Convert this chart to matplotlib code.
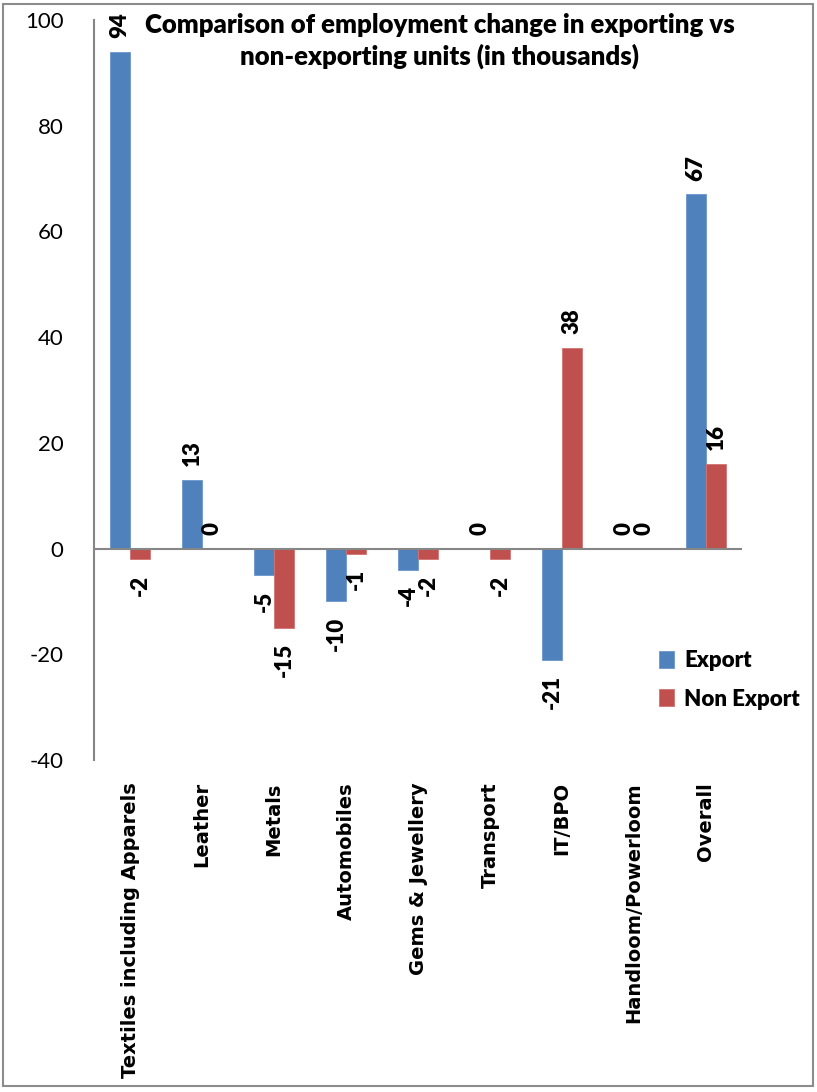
import matplotlib.pyplot as plt
import numpy as np
from matplotlib.patches import Rectangle

categories = ["Textiles including Apparels", "Leather", "Metals", "Automobiles",
              "Gems & Jewellery", "Transport", "IT/BPO", "Handloom/Powerloom", "Overall"]
export = [94, 13, -5, -10, -4, 0, -21, 0, 67]
non_export = [-2, 0, -15, -1, -2, -2, 38, 0, 16]

blue = "#4F81BD"
red = "#C0504D"
axis_gray = "#868686"

plt.rcParams["axes.unicode_minus"] = False

fig = plt.figure(figsize=(8.17, 10.92), dpi=100)
ax = fig.add_axes([94/817, 1-760/1092, (742-94)/817, (760-20)/1092])

x = np.arange(len(categories))
w = 0.28
b1 = ax.bar(x - w/2, export, w, color=blue, edgecolor="#6C96CC", linewidth=0.6, label="Export")
b2 = ax.bar(x + w/2, non_export, w, color=red, edgecolor="#D07370", linewidth=0.6, label="Non Export")

ax.set_xlim(-0.5, len(categories) - 0.5)
ax.set_ylim(-40, 100)
ax.set_yticks(range(-40, 101, 20))
ax.tick_params(axis="y", length=0, labelsize=16, pad=22, labelcolor="black")
for t in ax.get_yticklabels():
    t.set_fontfamily("Lato")

ax.set_xticks(x)
ax.set_xticklabels(categories, rotation=90, fontsize=14, fontweight="bold",
                   fontfamily="DejaVu Sans")
ax.tick_params(axis="x", length=0, pad=16)

for s in ["top", "right", "bottom"]:
    ax.spines[s].set_visible(False)
ax.spines["left"].set_color(axis_gray)
ax.spines["left"].set_linewidth(1.5)
ax.axhline(0, color=axis_gray, linewidth=1.5, zorder=3)

# data labels
for bars, vals in [(b1, export), (b2, non_export)]:
    for bar, v in zip(bars, vals):
        cx = bar.get_x() + bar.get_width()/2
        if v >= 0:
            ax.annotate(str(v), (cx, v), xytext=(0, 10), textcoords="offset points",
                        rotation=90, ha="center", va="bottom", fontsize=16,
                        fontweight="heavy", fontfamily="Lato")
        else:
            ax.annotate(str(v), (cx, v), xytext=(0, -11), textcoords="offset points",
                        rotation=90, ha="center", va="top", fontsize=16,
                        fontweight="heavy", fontfamily="Lato")

fig.text(440/817, 1-41/1092, "Comparison of employment change in exporting vs\nnon-exporting units (in thousands)",
         ha="center", va="center", fontsize=18.5, fontweight="heavy", fontfamily="Lato",
         linespacing=1.3)

leg = ax.legend(loc="upper left", bbox_to_anchor=((650-94)/(742-94), (760-641)/740),
                frameon=False, prop={"family": "Lato", "weight": "heavy", "size": 16},
                handlelength=0.7, handleheight=0.8, handletextpad=0.45, labelspacing=0.8,
                borderaxespad=0)

fig.patches.append(Rectangle((3/817, 1-1086/1092), 810/817, 1082/1092, transform=fig.transFigure,
                             fill=False, edgecolor="#8C8C8C", linewidth=1.5))

fig.savefig("out.png", dpi=100)
